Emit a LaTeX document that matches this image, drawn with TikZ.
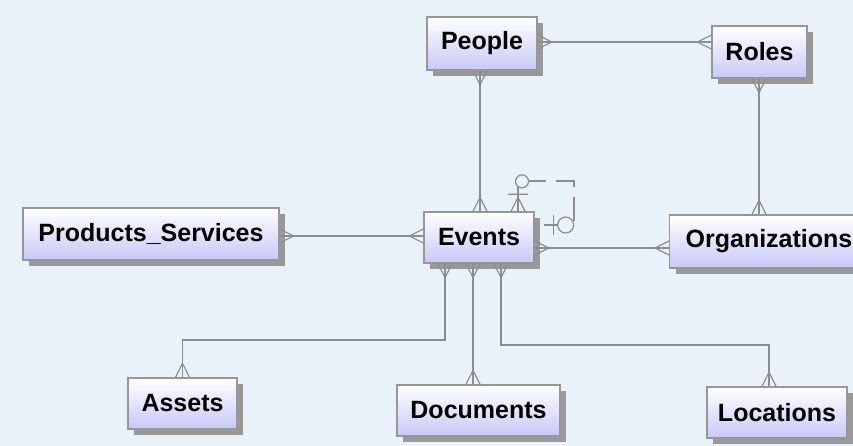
\documentclass[tikz,border=0pt]{standalone}
\usepackage{fontspec}
\setmainfont{Liberation Sans}
\usetikzlibrary{shadows,patterns,calc}
\definecolor{bgc}{RGB}{233,241,249}
\definecolor{boxbot}{RGB}{200,200,248}
\definecolor{boxline}{RGB}{150,150,155}
\definecolor{connc}{RGB}{140,140,145}
\begin{document}
\begin{tikzpicture}[x=1pt,y=1pt,
  ent/.style={draw=boxline, line width=1.3pt, top color=white, bottom color=boxbot,
    inner sep=0pt, font=\fontsize{25}{27}\selectfont\bfseries,
    drop shadow={shadow xshift=6pt, shadow yshift=-6pt, fill=black!40,
      opacity=1, draw=none}},
  conn/.style={draw=connc, line width=1.2pt},
  crow/.pic={\draw[conn] (14,0) -- (0,7) (14,0) -- (0,-7);},
  zeromany/.pic={\draw[conn] (14,0) -- (0,7) (14,0) -- (0,-7) (17,-10) -- (17,10);
    \draw[conn, fill=bgc] (30,-4) circle (6.5);},
  zeroone/.pic={\draw[conn] (19,-10) -- (19,10);
    \draw[conn, fill=bgc] (31,0) circle (8);},
]
\fill[bgc] (0,0) rectangle (853,-446);
\useasboundingbox (0,0) rectangle (853,-446);

% entities
\node[ent, minimum width=110pt, minimum height=53pt] (people) at (482,-43.5) {People};
\node[ent, minimum width=95pt, minimum height=52pt] (roles) at (759.5,-52) {Roles};
\node[ent, minimum width=110pt, minimum height=51pt] (events) at (479,-237.5) {Events};
\node[ent, minimum height=53pt, text width=189pt, align=left, inner xsep=16pt, anchor=west] (orgs) at (669,-241.5) {Organizations};
\node[ent, minimum width=256pt, minimum height=52pt] (prod) at (151,-234) {Products\_Services};
\node[ent, minimum width=109pt, minimum height=51pt] (assets) at (182.5,-403.5) {Assets};
\node[ent, minimum width=163pt, minimum height=51pt] (docs) at (478.5,-410.5) {Documents};
\node[ent, minimum width=140pt, minimum height=51pt] (locs) at (777,-412.5) {Locations};

% People -- Roles
\draw[conn] (people.east |- 0,-42) -- (roles.west |- 0,-42);
\pic at (people.east |- 0,-42) {crow};
\pic[rotate=180] at (roles.west |- 0,-42) {crow};

% People -- Events
\draw[conn] (people.south -| 480,0) -- (events.north -| 480,0);
\pic[rotate=-90] at (people.south -| 480,0) {crow};
\pic[rotate=90] at (events.north -| 480,0) {crow};

% Roles -- Organizations
\draw[conn] (roles.south -| 759,0) -- (orgs.north -| 759,0);
\pic[rotate=-90] at (roles.south -| 759,0) {crow};
\pic[rotate=90] at (orgs.north -| 759,0) {crow};

% Products -- Events
\draw[conn] (prod.east |- 0,-236) -- (events.west |- 0,-236);
\pic at (prod.east |- 0,-236) {crow};
\pic[rotate=180] at (events.west |- 0,-236) {crow};

% Events -- Organizations
\draw[conn] (events.east |- 0,-248) -- (orgs.west |- 0,-248);
\pic at (events.east |- 0,-248) {crow};
\pic[rotate=180] at (orgs.west |- 0,-248) {crow};

% Events -- Assets
\draw[conn] (events.south -| 445,0) |- (assets.north |- 0,-340) -- (assets.north);
\pic[rotate=-90] at (events.south -| 445,0) {crow};
\pic[rotate=90] at (assets.north) {crow};

% Events -- Documents
\draw[conn] (events.south -| 473,0) -- (docs.north -| 473,0);
\pic[rotate=-90] at (events.south -| 473,0) {crow};
\pic[rotate=90] at (docs.north -| 473,0) {crow};

% Events -- Locations
\draw[conn] (events.south -| 501,0) |- (769,-345) -- (locs.north -| 769,0);
\pic[rotate=-90] at (events.south -| 501,0) {crow};
\pic[rotate=90] at (locs.north -| 769,0) {crow};

% Events self relationship
\draw[conn, dash pattern=on 24pt off 10pt] (events.north -| 518,0) -- (518,-181) -- (574,-181) -- (574,-225) -- (events.east |- 0,-225);
\pic[rotate=90] at (events.north -| 518,0) {zeromany};
\pic at (events.east |- 0,-225) {zeroone};
\end{tikzpicture}
\end{document}
